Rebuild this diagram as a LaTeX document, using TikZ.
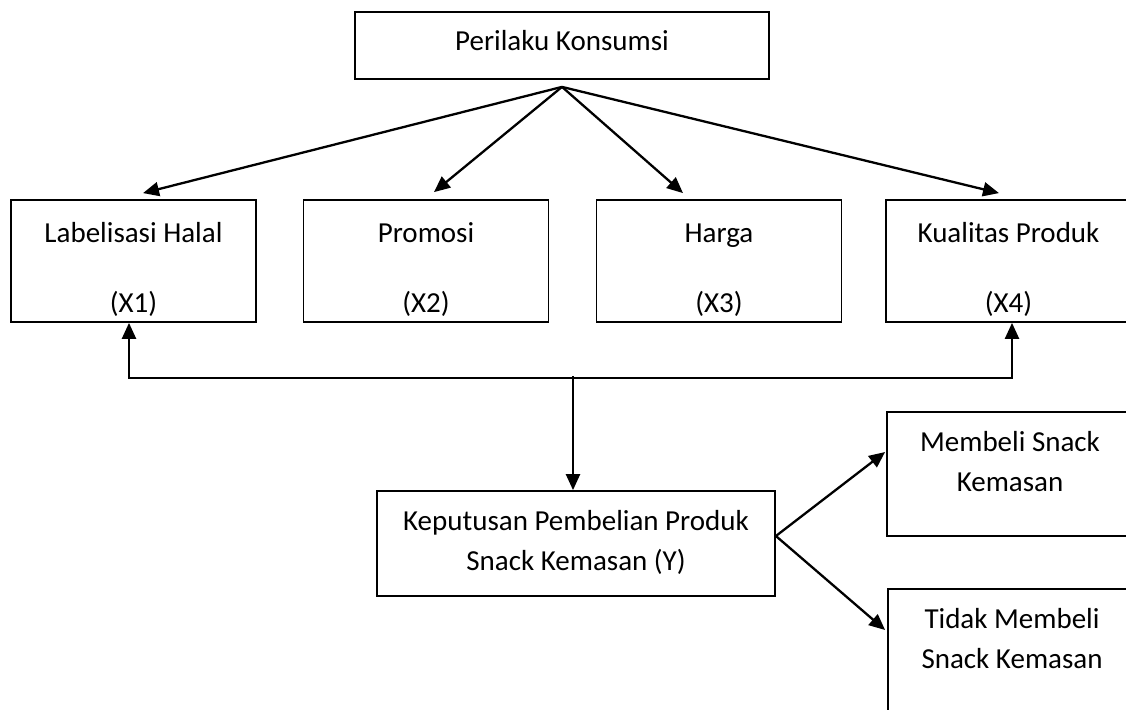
\documentclass[tikz,border=0pt]{standalone}
\usepackage{fontspec}
\setmainfont{Carlito}
\usetikzlibrary{arrows.meta,calc}
\begin{document}
\begin{tikzpicture}[x=1pt,y=-1pt,
  box/.style={draw, line width=1.8pt, rectangle, inner sep=0pt},
  lbl/.style={font=\fontsize{29}{40}\selectfont, inner sep=0pt, anchor=base},
  conn/.style={line width=2.3pt},
  arr/.style={conn, -{Triangle[length=16pt,width=14pt]}}]
\useasboundingbox (0,0) rectangle (1126,709);
\clip (0,0) rectangle (1126,709);
% boxes
\node[box, minimum width=414, minimum height=67] (pk) at (562,45.5) {};
\node[box, minimum width=245, minimum height=122] (x1) at (133.5,261) {};
\node[box, minimum width=245, minimum height=122] (x2) at (426,261) {};
\node[box, minimum width=245, minimum height=122] (x3) at (719,261) {};
\node[box, minimum width=245, minimum height=122] (x4) at (1008.5,261) {};
\node[box, minimum width=398, minimum height=105] (y) at (576,543.5) {};
\node[box, minimum width=246, minimum height=124] (mb) at (1010,474) {};
\node[box, minimum width=246, minimum height=124] (tm) at (1011,651) {};
% texts
\node[lbl] (pkt) at (562,51) {Perilaku Konsumsi};
\node[lbl] (x1a) at (133.5,242) {Labelisasi Halal};
\node[lbl] (x1b) at (133.5,312) {(X1)};
\node[lbl] (x2a) at (426,242) {Promosi};
\node[lbl] (x2b) at (426,312) {(X2)};
\node[lbl] (x3a) at (719,242) {Harga};
\node[lbl] (x3b) at (719,312) {(X3)};
\node[lbl] (x4a) at (1008.5,242) {Kualitas Produk};
\node[lbl] (x4b) at (1008.5,312) {(X4)};
\node[lbl] (ya) at (576,530) {Keputusan Pembelian Produk};
\node[lbl] (yb) at (576,570) {Snack Kemasan (Y)};
\node[lbl] (mba) at (1010,451) {Membeli Snack};
\node[lbl] (mbb) at (1010,491) {Kemasan};
\node[lbl] (tma) at (1012,628) {Tidak Membeli};
\node[lbl] (tmb) at (1012,668) {Snack Kemasan};
% connector points
\coordinate (apex) at ($(pk.south)+(0,7)$);
\coordinate (t1) at ($(x1.north)+(9.5,-6)$);
\coordinate (t2) at ($(x2.north)+(8,-7)$);
\coordinate (t3) at ($(x3.north)+(-36,-6)$);
\coordinate (t4) at ($(x4.north)+(-9.5,-6)$);
\coordinate (bl) at ($(x1.south)+(-4.5,55)$);
\coordinate (br) at ($(x4.south)+(3.5,55)$);
\coordinate (yj) at ($(y.north)+(-3,-114)$);
\coordinate (yr) at ($(y.east)+(0,-7.5)$);
\coordinate (m1) at ($(mb.west)+(-1,-22)$);
\coordinate (m2) at ($(tm.west)+(-2,-21)$);
% connectors
\draw[arr] (apex) -- (t1);
\draw[arr] (apex) -- (t2);
\draw[arr] (apex) -- (t3);
\draw[arr] (apex) -- (t4);
\draw[arr] (br) -- (bl) -- (bl |- x1.south);
\draw[arr] (bl) -- (br) -- (br |- x4.south);
\draw[arr] (yj) -- (yj |- y.north);
\draw[arr] (yr) -- (m1);
\draw[arr] (yr) -- (m2);
\end{tikzpicture}
\end{document}
